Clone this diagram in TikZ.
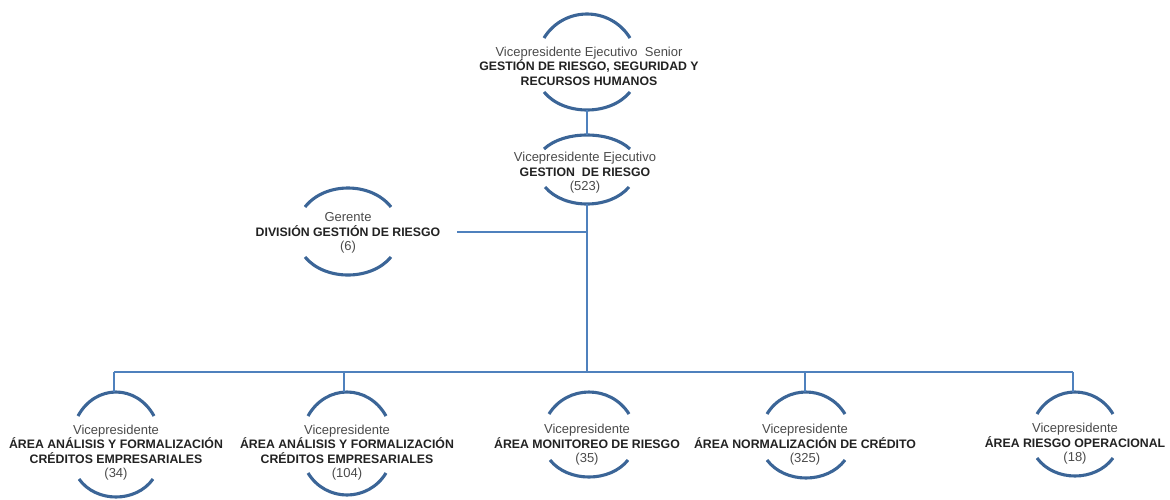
\documentclass[tikz,border=0pt]{standalone}
\usepackage{fontspec}
\setmainfont{Liberation Sans}
\definecolor{arcblue}{HTML}{3B6597}
\definecolor{linkblue}{HTML}{4F81BD}
\definecolor{txtreg}{HTML}{4A4A4A}
\definecolor{txtbold}{HTML}{222222}
\newcommand{\rl}[1]{{\color{txtreg}\mdseries\fontsize{13}{14.5}\selectfont #1}}
\newcommand{\bl}[1]{{\color{txtbold}\bfseries\fontsize{12.3}{14.5}\selectfont #1}}
% top arc: cx, y of ends, half chord, sagitta (y measured downwards)
\newcommand{\toparc}[4]{\draw[arcstyle] ({#1-#3},{-#2}) .. controls +({0.46*#3},{4/3*#4}) and +({-0.46*#3},{4/3*#4}) .. ({#1+#3},{-#2});}
\newcommand{\botarc}[4]{\draw[arcstyle] ({#1-#3},{-#2}) .. controls +({0.46*#3},{-4/3*#4}) and +({-0.46*#3},{-4/3*#4}) .. ({#1+#3},{-#2});}
\tikzset{
  arcstyle/.style={draw=arcblue, line width=3.1pt, line cap=butt},
  link/.style={draw=linkblue, line width=1.3pt},
  unit/.style={align=center, inner sep=0pt, font=\fontsize{12.3}{14.5}\selectfont},
}
\begin{document}
\begin{tikzpicture}[x=1pt,y=1pt]
\useasboundingbox (0,0) rectangle (1170,-499);

% ---- nodes (text)
\node[unit] (A) at (589,-66) {\rl{Vicepresidente Ejecutivo\ \ Senior}\\\bl{GESTIÓN DE RIESGO, SEGURIDAD Y}\\\bl{RECURSOS HUMANOS}};
\node[unit] (B) at (585,-173) {\rl{Vicepresidente Ejecutivo}\\\bl{GESTION\ \ DE RIESGO}\\\rl{(523)}};
\node[unit] (G) at (348,-233) {\rl{Gerente}\\\bl{DIVISIÓN GESTIÓN DE RIESGO}\\\rl{(6)}};
\node[unit] (N1) at (116,-452.5) {\rl{Vicepresidente}\\\bl{ÁREA ANÁLISIS Y FORMALIZACIÓN}\\\bl{CRÉDITOS EMPRESARIALES}\\\rl{(34)}};
\node[unit] (N2) at (347,-452.5) {\rl{Vicepresidente}\\\bl{ÁREA ANÁLISIS Y FORMALIZACIÓN}\\\bl{CRÉDITOS EMPRESARIALES}\\\rl{(104)}};
\node[unit] (N3) at (587,-445) {\rl{Vicepresidente}\\\bl{ÁREA MONITOREO DE RIESGO}\\\rl{(35)}};
\node[unit] (N4) at (805,-445) {\rl{Vicepresidente}\\\bl{ÁREA NORMALIZACIÓN DE CRÉDITO}\\\rl{(325)}};
\node[unit] (N5) at (1075,-444) {\rl{Vicepresidente}\\\bl{ÁREA RIESGO OPERACIONAL}\\\rl{(18)}};

% ---- arcs
\toparc{587}{38}{43}{24}  \botarc{587}{92}{43}{18}
\toparc{587}{149}{43}{14} \botarc{587}{187}{42}{17}
\toparc{348}{207}{43}{19} \botarc{348}{257}{43}{18}
\toparc{116}{416}{38}{24} \botarc{116}{479}{37}{18}
\toparc{347}{416}{39}{24} \botarc{347}{473}{39}{22}
\toparc{589}{414}{40}{22} \botarc{589}{460}{39}{17}
\toparc{806}{414}{39}{22} \botarc{806}{460}{39}{18}
\toparc{1075}{414}{38}{22} \botarc{1075}{458}{38}{18}

% ---- anchor points of the arcs
\coordinate (A-b) at (587,-110);
\coordinate (B-t) at (587,-135);
\coordinate (B-b) at (587,-204);
\coordinate (G-r) at (457,-232);
\coordinate (T-g) at (587,-232);
\coordinate (bus-c) at (587,-372);
\coordinate (bus-1) at (114,-372);
\coordinate (bus-2) at (344,-372);
\coordinate (bus-4) at (805,-372);
\coordinate (bus-5) at (1073,-372);
\coordinate (N1-t) at (114,-392);
\coordinate (N2-t) at (344,-392);
\coordinate (N4-t) at (805,-392);
\coordinate (N5-t) at (1073,-392);

% ---- connectors
\draw[link] (A-b) -- (B-t);
\draw[link] (B-b) -- (bus-c);
\draw[link] (G-r) -- (T-g);
\draw[link] (bus-1) -- (bus-5);
\draw[link] (bus-1) -- (N1-t);
\draw[link] (bus-2) -- (N2-t);
\draw[link] (bus-4) -- (N4-t);
\draw[link] (bus-5) -- (N5-t);
\end{tikzpicture}
\end{document}
